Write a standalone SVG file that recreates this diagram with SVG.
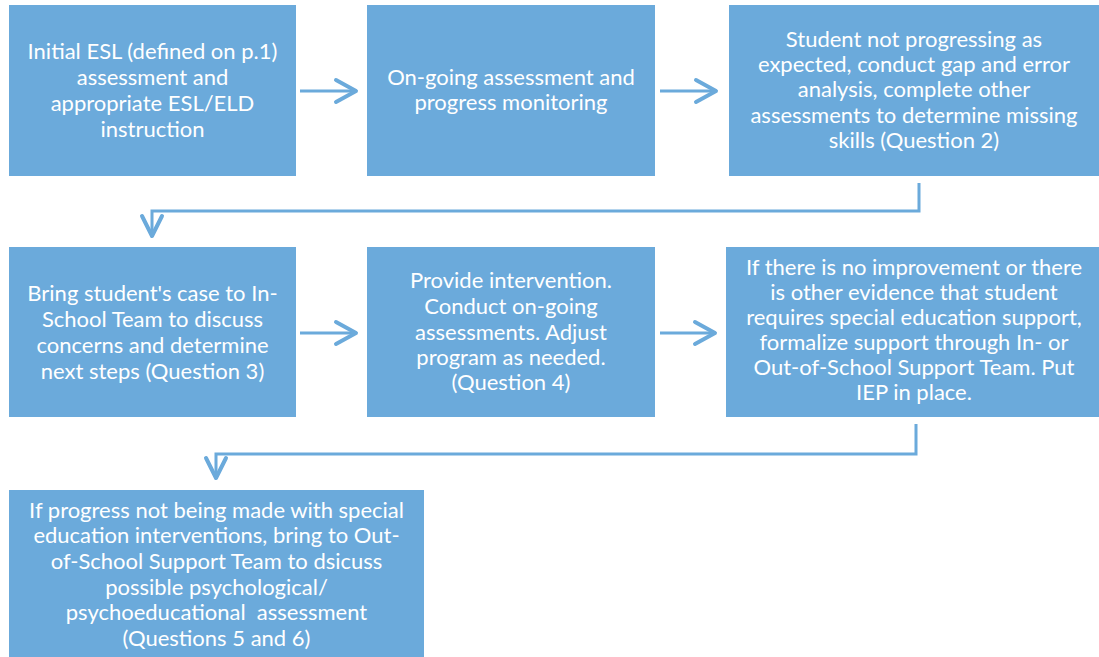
<svg xmlns="http://www.w3.org/2000/svg" width="1099" height="657" viewBox="0 0 1099 657">
<defs>
<style>
.box{fill:#6BAADB;}
.t{font-family:Lato,"Liberation Sans",sans-serif;font-size:22px;fill:#ffffff;text-anchor:middle;white-space:pre;}
.c{fill:none;stroke:#6BAADB;stroke-width:3;}
.h{fill:none;stroke:#6BAADB;stroke-width:4;stroke-linecap:round;stroke-linejoin:round;}
</style>
</defs>
<rect width="1099" height="657" fill="#ffffff"/>
<g id="connectors">
<path class="c" d="M300 91 H355"/>
<path class="h" d="M336 80 L356 91 L336 102"/>
<path class="c" d="M660 91 H715"/>
<path class="h" d="M696 80 L716 91 L696 102"/>
<path class="c" d="M300 333 H355"/>
<path class="h" d="M336 322 L356 333 L336 344"/>
<path class="c" d="M660 333 H714"/>
<path class="h" d="M695 322 L715 333 L695 344"/>
<path class="c" d="M919 183 V211 H152 V236" stroke-width="2.5"/>
<path class="h" d="M142 216 L152 236 L162 216"/>
<path class="c" d="M916 424 V454 H216 V478" stroke-width="2.5"/>
<path class="h" d="M206 458 L216 478 L226 458"/>
</g>
<g id="n1">
<rect class="box" x="9" y="5" width="287" height="171"/>
<text class="t"><tspan x="152.5" y="59">Initial ESL (defined on p.1)</tspan><tspan x="152.5" y="85">assessment and</tspan><tspan x="152.5" y="111">appropriate ESL/ELD</tspan><tspan x="152.5" y="137">instruction</tspan></text>
</g>
<g id="n2">
<rect class="box" x="367" y="5" width="288" height="171"/>
<text class="t"><tspan x="511" y="85">On-going assessment and</tspan><tspan x="511" y="110">progress monitoring</tspan></text>
</g>
<g id="n3">
<rect class="box" x="729" y="5" width="370" height="171"/>
<text class="t"><tspan x="914" y="47">Student not progressing as</tspan><tspan x="914" y="72">expected, conduct gap and error</tspan><tspan x="914" y="97">analysis, complete other</tspan><tspan x="914" y="123">assessments to determine missing</tspan><tspan x="914" y="148">skills (Question 2)</tspan></text>
</g>
<g id="n4">
<rect class="box" x="9" y="247" width="287" height="170"/>
<text class="t"><tspan x="152.5" y="301">Bring student's case to In-</tspan><tspan x="152.5" y="327">School Team to discuss</tspan><tspan x="152.5" y="353">concerns and determine</tspan><tspan x="152.5" y="379">next steps (Question 3)</tspan></text>
</g>
<g id="n5">
<rect class="box" x="367" y="247" width="288" height="170"/>
<text class="t"><tspan x="511" y="288">Provide intervention.</tspan><tspan x="511" y="314">Conduct on-going</tspan><tspan x="511" y="340">assessments. Adjust</tspan><tspan x="511" y="365">program as needed.</tspan><tspan x="511" y="390">(Question 4)</tspan></text>
</g>
<g id="n6">
<rect class="box" x="726" y="247" width="373" height="170"/>
<text class="t"><tspan x="914" y="275">If there is no improvement or there</tspan><tspan x="914" y="300">is other evidence that student</tspan><tspan x="914" y="325">requires special education support,</tspan><tspan x="914" y="350">formalize support through In- or</tspan><tspan x="914" y="375">Out-of-School Support Team. Put</tspan><tspan x="914" y="400">IEP in place.</tspan></text>
</g>
<g id="n7">
<rect class="box" x="9" y="490" width="415" height="167"/>
<text class="t"><tspan x="216.5" y="518">If progress not being made with special</tspan><tspan x="216.5" y="543">education interventions, bring to Out-</tspan><tspan x="216.5" y="569">of-School Support Team to dsicuss</tspan><tspan x="216.5" y="595">possible psychological/</tspan><tspan x="216.5" y="620">psychoeducational  assessment</tspan><tspan x="216.5" y="646">(Questions 5 and 6)</tspan></text>
</g>
</svg>
